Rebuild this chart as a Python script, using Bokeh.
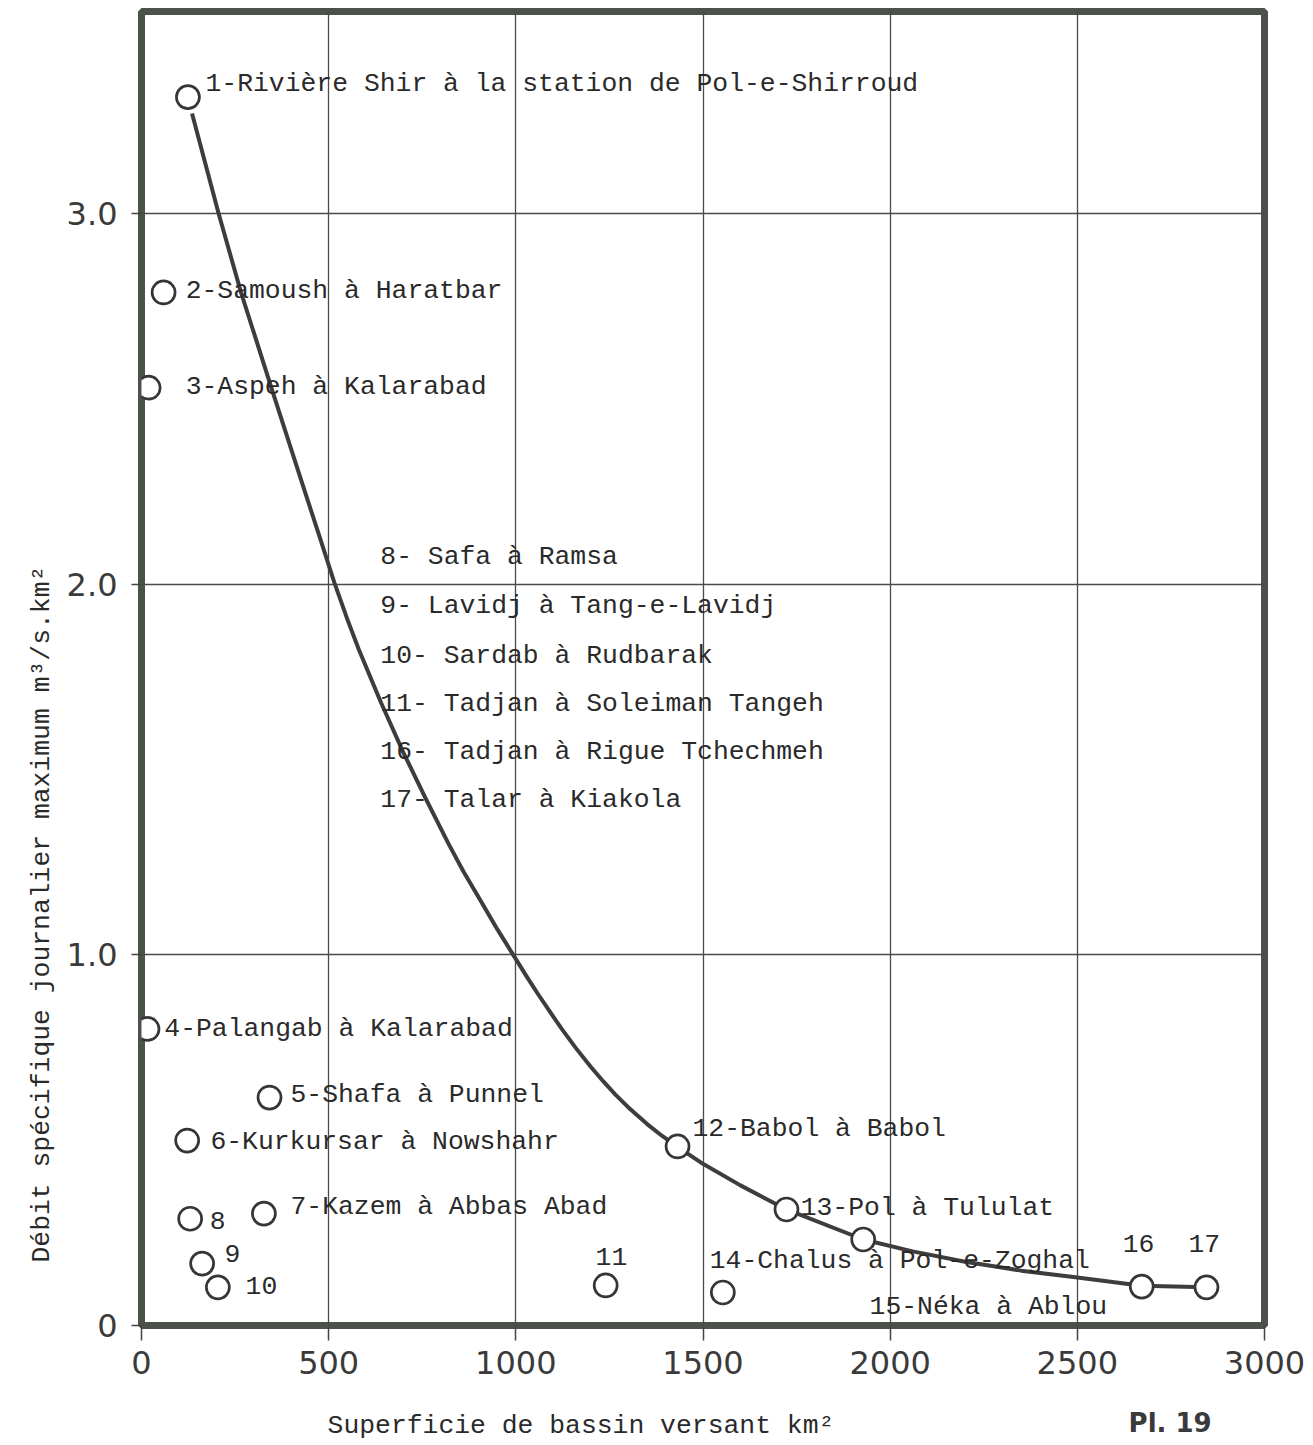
from bokeh.plotting import figure
from bokeh.models import ColumnDataSource, Label, FixedTicker, Title
from bokeh.layouts import column
from bokeh.core.properties import value
from bokeh.embed import file_html
from bokeh.resources import INLINE

# ---- data ----
station_x = [124, 59, 19, 16, 342, 122, 327, 130, 162, 204, 1240, 1432, 1723, 1553, 1928, 2672, 2845]
station_y = [3.314, 2.787, 2.53, 0.80, 0.615, 0.499, 0.302, 0.288, 0.167, 0.103, 0.108, 0.483, 0.313, 0.089, 0.232, 0.105, 0.103]

curve_x = [135, 206, 265, 350, 430, 475, 515, 550, 580, 640, 700, 760, 820, 860, 906, 950, 993,
           1030, 1060, 1100, 1125, 1160, 1200, 1235, 1266, 1300, 1350, 1390, 1432, 1494, 1600,
           1723, 1928, 2060, 2200, 2350, 2495, 2672, 2845]
curve_y = [3.27, 3.00, 2.79, 2.52, 2.27, 2.13, 2.005, 1.905, 1.825, 1.68, 1.545, 1.42, 1.30, 1.225,
           1.146, 1.07, 1.00, 0.94, 0.893, 0.833, 0.797, 0.749, 0.698, 0.657, 0.623, 0.589, 0.544,
           0.512, 0.482, 0.44, 0.378, 0.313, 0.232, 0.20, 0.172, 0.148, 0.13, 0.107, 0.103]

label_text = [
    "1-Rivière Shir à la station de Pol-e-Shirroud",
    "2-Samoush à Haratbar",
    "3-Aspeh à Kalarabad",
    " 8- Safa à Ramsa",
    " 9- Lavidj à Tang-e-Lavidj",
    "10- Sardab à Rudbarak",
    "11- Tadjan à Soleiman Tangeh",
    "16- Tadjan à Rigue Tchechmeh",
    "17- Talar à Kiakola",
    "4-Palangab à Kalarabad",
    "5-Shafa à Punnel",
    "6-Kurkursar à Nowshahr",
    "7-Kazem à Abbas Abad",
    "8", "9", "10", "11",
    "12-Babol à Babol",
    "13-Pol à Tululat",
    "14-Chalus à Pol-e-Zoghal",
    "15-Néka à Ablou",
    "16", "17",
]
label_x = [171, 118, 118, 638, 638, 638, 638, 638, 638, 61, 398, 184, 398,
           182, 222, 278, 1213, 1472, 1761, 1518, 1945, 2621, 2797]
label_y = [3.35, 2.792, 2.533, 2.072, 1.940, 1.807, 1.678, 1.546, 1.419, 0.801, 0.623, 0.494, 0.321,
           0.283, 0.194, 0.108, 0.186, 0.531, 0.316, 0.175, 0.049, 0.221, 0.221]

x_ticks = [0, 500, 1000, 1500, 2000, 2500, 3000]
y_ticks = [0, 1, 2, 3]
y_tick_labels = {0: "0", 1: "1.0", 2: "2.0", 3: "3.0"}

x_title = "Superficie de bassin versant km²"
y_title = "Débit spécifique journalier maximum m³/s.km²"
plate = "Pl. 19"

MONO = "Liberation Mono"
FS = "26.4px"
TXT = "#2a2a2a"
FRAME = "#4b5249"
W = 1305

p = figure(width=W, height=1395, x_range=(0, 3000), y_range=(0, 3.545),
           output_backend="svg", toolbar_location=None,
           min_border_left=141, min_border_right=41, min_border_top=11, min_border_bottom=70)
p.background_fill_color = "white"
p.border_fill_color = "white"
p.outline_line_color = FRAME
p.outline_line_width = 7

for ax in (p.xaxis[0], p.yaxis[0]):
    ax.axis_line_color = None
    ax.major_tick_line_color = "#444444"
    ax.major_tick_line_width = 1.5
    ax.minor_tick_line_color = None
    ax.major_tick_in = 0
    ax.major_label_text_font = "DejaVu Sans"
    ax.major_label_text_font_size = "32px"
    ax.major_label_text_color = "#3a3a3a"

p.xaxis.ticker = FixedTicker(ticks=x_ticks)
p.yaxis.ticker = FixedTicker(ticks=y_ticks)
p.yaxis.major_label_overrides = y_tick_labels
p.xaxis.major_tick_out = 15
p.xaxis.major_label_standoff = 10
p.yaxis.major_tick_out = 10
p.yaxis.major_label_standoff = 14

p.xgrid.ticker = FixedTicker(ticks=[500, 1000, 1500, 2000, 2500])
p.ygrid.ticker = FixedTicker(ticks=[1, 2, 3])
for g in (p.xgrid[0], p.ygrid[0]):
    g.grid_line_color = "#4a4a4a"
    g.grid_line_width = 1.3

p.line(curve_x, curve_y, line_color="#3d3d3d", line_width=4, line_join="round")
p.scatter(station_x, station_y, marker="circle", size=23, fill_color="white",
          line_color="#363636", line_width=2.7)

src = ColumnDataSource(dict(x=label_x, y=label_y, t=label_text))
p.text(x="x", y="y", text="t", source=src, text_font=value(MONO), text_font_size=FS,
       text_color=TXT, text_baseline="middle", text_align="left")

# y-axis title, aligned from the bottom of the frame like the original
p.add_layout(Title(text=y_title, align="left", offset=63, vertical_align="middle", standoff=12,
                   text_font=MONO, text_font_size=FS, text_font_style="normal",
                   text_color=TXT), "left")

# strip below the chart for the x-axis title and plate number
p2 = figure(width=W, height=48, x_range=p.x_range, y_range=(0, 1),
            x_axis_type=None, y_axis_type=None, output_backend="svg", toolbar_location=None,
            min_border_left=141, min_border_right=41, min_border_top=0, min_border_bottom=0)
p2.outline_line_color = None
p2.background_fill_color = "white"
p2.border_fill_color = "white"
p2.add_layout(Label(x=497, y=0.375, text=x_title, text_font=MONO, text_font_size=FS,
                    text_color=TXT, text_baseline="middle", text_align="left"))
p2.add_layout(Label(x=2637, y=0.42, text=plate, text_font="DejaVu Sans", text_font_style="bold",
                    text_font_size="26px", text_color="#3a3a3a", text_baseline="middle",
                    text_align="left"))

layout = column(p, p2, spacing=0)
open("out.html", "w").write(file_html(layout, INLINE))
